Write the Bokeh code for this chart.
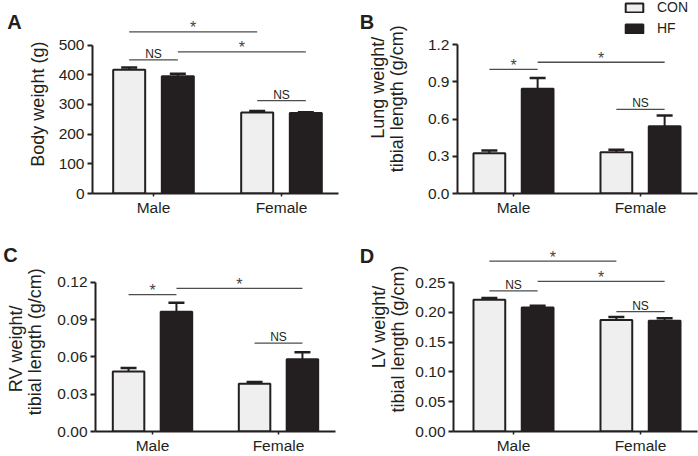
import math
from bokeh.plotting import figure
from bokeh.models import (ColumnDataSource, Range1d, FixedTicker, PrintfTickFormatter,
                          Whisker, TeeHead, Legend, LegendItem)
from bokeh.layouts import row, column
from bokeh.transform import dodge
from bokeh.core.properties import value
from bokeh.embed import file_html
from bokeh.resources import INLINE

# ---------------- data ----------------
groups = ["Male", "Female"]
series = ["CON", "HF"]

# A: body weight (g)
a_con = [417, 273]
a_con_sem = [7, 5]
a_hf = [395, 271]
a_hf_sem = [8, 3]
a_ticks = [0, 100, 200, 300, 400, 500]
a_sig = [("Male", "CON", "Female", "CON", 544, "*"),
         ("Male", "HF", "Female", "HF", 477, "*"),
         ("Male", "CON", "Male", "HF", 450, "NS"),
         ("Female", "CON", "Female", "HF", 313, "NS")]

# B: lung weight / tibial length (g/cm)
b_con = [0.325, 0.333]
b_con_sem = [0.021, 0.019]
b_hf = [0.843, 0.542]
b_hf_sem = [0.087, 0.086]
b_ticks = [0.0, 0.3, 0.6, 0.9, 1.2]
b_sig = [("Male", "CON", "Male", "HF", 1.0, "*"),
         ("Male", "HF", "Female", "HF", 1.057, "*"),
         ("Female", "CON", "Female", "HF", 0.677, "NS")]

# C: RV weight / tibial length (g/cm)
c_con = [0.0482, 0.0384]
c_con_sem = [0.0028, 0.0013]
c_hf = [0.0963, 0.0581]
c_hf_sem = [0.0072, 0.0056]
c_ticks = [0.00, 0.03, 0.06, 0.09, 0.12]
c_sig = [("Male", "CON", "Male", "HF", 0.110, "*"),
         ("Male", "HF", "Female", "HF", 0.115, "*"),
         ("Female", "CON", "Female", "HF", 0.071, "NS")]

# D: LV weight / tibial length (g/cm)
d_con = [0.221, 0.187]
d_con_sem = [0.003, 0.005]
d_hf = [0.208, 0.186]
d_hf_sem = [0.003, 0.004]
d_ticks = [0.00, 0.05, 0.10, 0.15, 0.20, 0.25]
d_sig = [("Male", "CON", "Female", "CON", 0.286, "*"),
         ("Male", "HF", "Female", "HF", 0.252, "*"),
         ("Male", "CON", "Male", "HF", 0.236, "NS"),
         ("Female", "CON", "Female", "HF", 0.201, "NS")]

a_title = ["Body weight (g)"]
b_title = ["Lung weight/", "tibial length (g/cm)"]
c_title = ["RV weight/", "tibial length (g/cm)"]
d_title = ["LV weight/", "tibial length (g/cm)"]

# ---------------- style ----------------
FONT = "Liberation Sans"
INK = "#231f20"
CON_FILL = "#efefef"
HF_FILL = "#231f20"
SIG_LINE = "#4d4d4d"
OFFSET = {"CON": -0.19, "HF": 0.19}
BAR_W = 0.25
TICK_FS = "15.5px"


def gutter(origin, size, letter, letter_xy, titles, title_pos):
    """Narrow text-only figure holding the panel letter and the rotated y title."""
    ox, oy = origin
    w, h = size
    g = figure(width=w, height=h, output_backend="svg", toolbar_location=None,
               x_range=Range1d(0, w), y_range=Range1d(0, h),
               x_axis_type=None, y_axis_type=None,
               min_border_left=0, min_border_right=0, min_border_top=0, min_border_bottom=0)
    g.outline_line_color = None
    g.grid.visible = False
    lx, ly = letter_xy
    g.text(x=[lx - ox], y=[h - (ly - oy)], text=[letter], text_font=value(FONT),
           text_font_size="20px", text_font_style="bold", text_color=INK,
           text_align="center", text_baseline="alphabetic")
    xs = [bx - ox for bx, _ in title_pos]
    ys = [h - (cy - oy) for _, cy in title_pos]
    g.text(x=xs, y=ys, text=titles, angle=math.pi / 2, text_font=value(FONT),
           text_font_size="18px", text_color=INK, text_align="center",
           text_baseline="alphabetic")
    return g


def panel(origin, size, frame, male_px, spacing, axis_top, ymax, ticks, fmt,
          con, con_sem, hf, hf_sem, sigs, legend=False):
    ox, oy = origin
    w, h = size
    L, R, T, B = frame
    x0 = -(male_px - L) / spacing
    x1 = (R - male_px) / spacing
    yend = ymax * (B - T) / (B - axis_top)

    p = figure(width=w, height=h, output_backend="svg", toolbar_location=None,
               x_range=Range1d(x0, x1), y_range=Range1d(0, yend),
               min_border_left=L - ox, min_border_right=ox + w - R,
               min_border_top=T - oy, min_border_bottom=oy + h - B)
    p.outline_line_color = None
    p.grid.visible = False
    p.background_fill_color = "white"

    src = ColumnDataSource(dict(
        xi=list(range(len(groups))),
        con=con, hf=hf,
        con_top=[m + s for m, s in zip(con, con_sem)],
        hf_top=[m + s for m, s in zip(hf, hf_sem)],
    ))

    for s, col in (("CON", "con"), ("HF", "hf")):
        wk = Whisker(base=dodge("xi", OFFSET[s], range=p.x_range), lower=col, upper=col + "_top",
                     source=src, dimension="height", line_color=INK, line_width=2,
                     upper_head=TeeHead(size=16, line_width=2.5, line_color=INK), lower_head=None)
        p.add_layout(wk)

    r_con = p.vbar(x=dodge("xi", OFFSET["CON"], range=p.x_range), top="con", width=BAR_W, source=src,
                   fill_color=CON_FILL, line_color=INK, line_width=2)
    r_hf = p.vbar(x=dodge("xi", OFFSET["HF"], range=p.x_range), top="hf", width=BAR_W, source=src,
                  fill_color=HF_FILL, line_color=INK, line_width=2)

    # significance brackets
    sx0, sx1, sy = [], [], []
    star_x, star_y, ns_x, ns_y = [], [], [], []
    for g1, s1, g2, s2, yv, lab in sigs:
        xa = groups.index(g1) + OFFSET[s1]
        xb = groups.index(g2) + OFFSET[s2]
        sx0.append(xa); sx1.append(xb); sy.append(yv)
        if lab == "*":
            star_x.append((xa + xb) / 2); star_y.append(yv)
        else:
            ns_x.append((xa + xb) / 2); ns_y.append(yv)
    p.segment(x0=sx0, y0=sy, x1=sx1, y1=sy, line_color=SIG_LINE, line_width=1.3)
    if star_x:
        p.text(x=star_x, y=star_y, text=["*"] * len(star_x), text_font=value(FONT),
               text_font_size="16px", text_color="#444444", text_align="center",
               text_baseline="alphabetic", y_offset=-4)
    if ns_x:
        p.text(x=ns_x, y=ns_y, text=["NS"] * len(ns_x), text_font=value(FONT),
               text_font_size="12px", text_color=INK, text_align="center",
               text_baseline="alphabetic", y_offset=-6)

    # y axis
    ya = p.yaxis[0]
    ya.bounds = (0, ymax)
    ya.ticker = FixedTicker(ticks=ticks)
    ya.formatter = PrintfTickFormatter(format=fmt)
    ya.minor_tick_line_color = None
    ya.major_tick_in = 0
    ya.major_tick_out = 5
    ya.major_tick_line_width = 2
    ya.axis_line_width = 2
    ya.axis_line_color = INK
    ya.major_tick_line_color = INK
    ya.major_label_text_font = FONT
    ya.major_label_text_font_size = TICK_FS
    ya.major_label_text_color = INK
    ya.major_label_standoff = 3

    # x axis
    xa_ = p.xaxis[0]
    xa_.ticker = FixedTicker(ticks=list(range(len(groups))))
    xa_.major_label_overrides = {i: g for i, g in enumerate(groups)}
    xa_.minor_tick_line_color = None
    xa_.major_tick_in = 0
    xa_.major_tick_out = 3
    xa_.major_tick_line_width = 1.5
    xa_.axis_line_width = 2
    xa_.axis_line_color = INK
    xa_.major_tick_line_color = INK
    xa_.major_label_text_font = FONT
    xa_.major_label_text_font_size = TICK_FS
    xa_.major_label_text_color = INK
    xa_.major_label_standoff = 2

    if legend:
        lg = Legend(items=[LegendItem(label=series[0], renderers=[r_con]),
                           LegendItem(label=series[1], renderers=[r_hf])],
                    location=(623 - L, B - 36))
        lg.glyph_width = 22
        lg.glyph_height = 11
        lg.label_height = 11
        lg.label_standoff = 12
        lg.spacing = 5
        lg.padding = 0
        lg.margin = 0
        lg.border_line_alpha = 0
        lg.background_fill_alpha = 0
        lg.label_text_font = FONT
        lg.label_text_font_size = "14px"
        lg.label_text_color = INK
        lg.label_text_baseline = "middle"
        p.add_layout(lg)
    return p


gA = gutter((0, 0), (50, 230), "A", (14, 26), a_title, [(37, 123.5)])
pA = panel((50, 0), (299, 230), (92, 338, 0, 195), 153, 128, 45, 500, a_ticks, "%d",
           a_con, a_con_sem, a_hf, a_hf_sem, a_sig)
gB = gutter((349, 0), (61, 230), "B", (366.5, 26), b_title, [(377, 104), (396, 117)])
pB = panel((410, 0), (288, 230), (457, 697, 0, 193), 513, 127, 44, 1.2, b_ticks, "%.1f",
           b_con, b_con_sem, b_hf, b_hf_sem, b_sig, legend=True)
gC = gutter((0, 230), (46, 226), "C", (10, 258), c_title, [(15, 363), (34, 355)])
pC = panel((46, 230), (303, 226), (95, 335, 230, 432), 152, 126, 282, 0.12, c_ticks, "%.2f",
           c_con, c_con_sem, c_hf, c_hf_sem, c_sig)
gD = gutter((349, 230), (61, 226), "D", (366.5, 259), d_title, [(378, 338.5), (397, 352)])
pD = panel((410, 230), (288, 226), (453, 697, 230, 431), 513, 127, 282, 0.25, d_ticks, "%.2f",
           d_con, d_con_sem, d_hf, d_hf_sem, d_sig)

layout = column(row(gA, pA, gB, pB), row(gC, pC, gD, pD))
open("out.html", "w").write(file_html(layout, INLINE))
